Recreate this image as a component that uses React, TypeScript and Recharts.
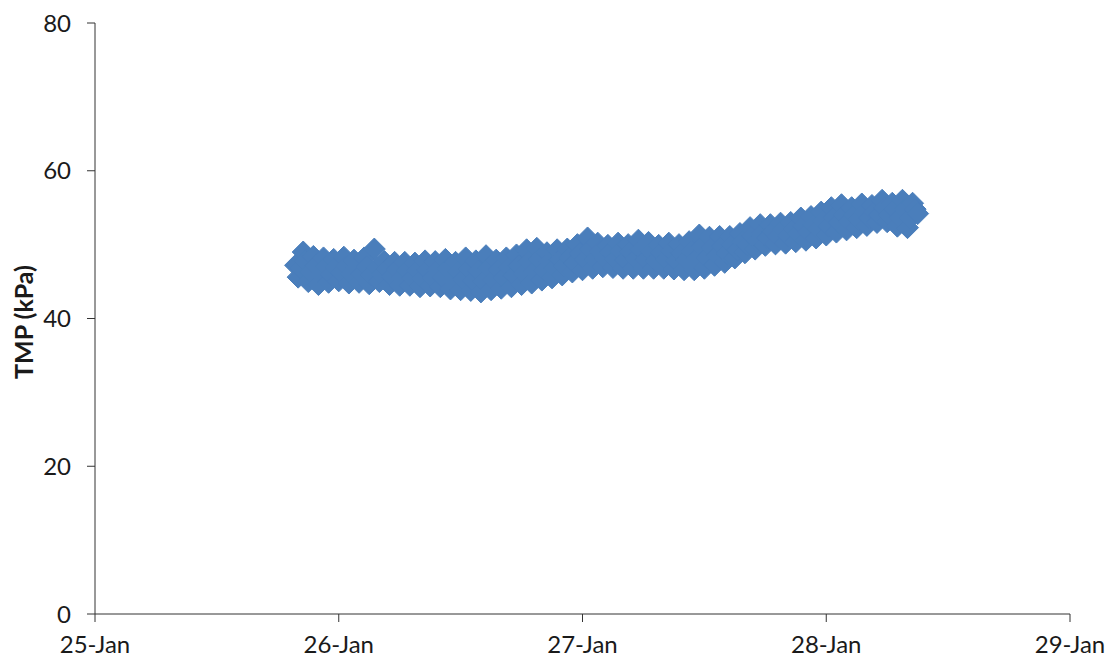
import { ScatterChart, Scatter, XAxis, YAxis, Label } from 'recharts';

// hours since 25-Jan 00:00 (15-minute logging)
const hours = [
  19.75, 20, 20.25, 20.5, 20.75, 21, 21.25, 21.5, 21.75,
  22, 22.25, 22.5, 22.75, 23, 23.25, 23.5, 23.75, 24, 24.25, 24.5, 24.75,
  25, 25.25, 25.5, 25.75, 26, 26.25, 26.5, 26.75, 27, 27.25, 27.5, 27.75,
  28, 28.25, 28.5, 28.75, 29, 29.25, 29.5, 29.75, 30, 30.25, 30.5, 30.75,
  31, 31.25, 31.5, 31.75, 32, 32.25, 32.5, 32.75, 33, 33.25, 33.5, 33.75,
  34, 34.25, 34.5, 34.75, 35, 35.25, 35.5, 35.75, 36, 36.25, 36.5, 36.75,
  37, 37.25, 37.5, 37.75, 38, 38.25, 38.5, 38.75, 39, 39.25, 39.5, 39.75,
  40, 40.25, 40.5, 40.75, 41, 41.25, 41.5, 41.75, 42, 42.25, 42.5, 42.75,
  43, 43.25, 43.5, 43.75, 44, 44.25, 44.5, 44.75, 45, 45.25, 45.5, 45.75,
  46, 46.25, 46.5, 46.75, 47, 47.25, 47.5, 47.75, 48, 48.25, 48.5, 48.75,
  49, 49.25, 49.5, 49.75, 50, 50.25, 50.5, 50.75, 51, 51.25, 51.5, 51.75,
  52, 52.25, 52.5, 52.75, 53, 53.25, 53.5, 53.75, 54, 54.25, 54.5, 54.75,
  55, 55.25, 55.5, 55.75, 56, 56.25, 56.5, 56.75, 57, 57.25, 57.5, 57.75,
  58, 58.25, 58.5, 58.75, 59, 59.25, 59.5, 59.75, 60, 60.25, 60.5, 60.75,
  61, 61.25, 61.5, 61.75, 62, 62.25, 62.5, 62.75, 63, 63.25, 63.5, 63.75,
  64, 64.25, 64.5, 64.75, 65, 65.25, 65.5, 65.75, 66, 66.25, 66.5, 66.75,
  67, 67.25, 67.5, 67.75, 68, 68.25, 68.5, 68.75, 69, 69.25, 69.5, 69.75,
  70, 70.25, 70.5, 70.75, 71, 71.25, 71.5, 71.75, 72, 72.25, 72.5, 72.75,
  73, 73.25, 73.5, 73.75, 74, 74.25, 74.5, 74.75, 75, 75.25, 75.5, 75.75,
  76, 76.25, 76.5, 76.75, 77, 77.25, 77.5, 77.75, 78, 78.25, 78.5, 78.75,
  79, 79.25, 79.5, 79.75, 80, 80.25, 80.5, 80.75, 81,
];

// TMP readings (kPa)
const tmp = [
  47.2, 45.6, 46.8, 49.0, 47.8, 45.0, 46.3, 48.4, 47.2,
  44.6, 45.9, 48.2, 47.0, 44.9, 46.0, 48.0, 46.9, 45.1, 46.2, 48.3, 47.1,
  44.8, 46.0, 47.9, 46.9, 44.9, 46.0, 48.2, 47.0, 44.7, 45.9, 49.4, 46.9,
  45.0, 46.0, 47.7, 46.8, 44.6, 45.7, 47.6, 46.6, 44.5, 45.6, 47.6, 46.5,
  44.5, 45.5, 47.5, 46.5, 44.3, 45.4, 47.8, 46.6, 44.4, 45.5, 47.7, 46.6,
  44.3, 45.5, 48.0, 46.8, 44.0, 45.2, 47.6, 46.4, 43.9, 45.3, 48.2, 46.7,
  43.8, 45.1, 47.8, 46.4, 43.6, 45.1, 48.5, 46.8, 43.9, 45.2, 47.9, 46.6,
  44.1, 45.5, 48.2, 46.9, 44.3, 45.8, 48.6, 47.2, 44.6, 46.1, 49.3, 47.7,
  44.8, 46.4, 49.5, 48.0, 45.2, 46.5, 48.9, 47.7, 45.5, 46.8, 49.3, 48.0,
  45.9, 47.1, 49.4, 48.2, 46.3, 47.5, 50.0, 48.8, 46.6, 48.0, 50.9, 49.4,
  46.8, 48.0, 50.2, 49.1, 47.0, 48.1, 49.9, 49.0, 46.9, 48.1, 50.2, 49.1,
  46.8, 47.9, 50.0, 49.0, 46.8, 48.1, 50.6, 49.3, 46.8, 48.0, 50.3, 49.1,
  46.8, 47.9, 49.9, 48.9, 46.8, 48.0, 50.2, 49.1, 46.7, 47.8, 50.0, 48.9,
  46.6, 47.9, 50.4, 49.1, 46.6, 48.1, 51.3, 49.7, 46.8, 48.2, 51.0, 49.6,
  47.2, 48.5, 51.1, 49.8, 47.6, 48.8, 51.1, 50.0, 48.2, 49.3, 51.5, 50.4,
  48.9, 50.0, 52.3, 51.2, 49.4, 50.5, 52.7, 51.6, 49.9, 50.9, 52.7, 51.8,
  50.1, 51.1, 52.9, 52.0, 50.2, 51.2, 53.0, 52.1, 50.4, 51.5, 53.6, 52.5,
  50.6, 51.7, 53.8, 52.7, 50.9, 52.1, 54.4, 53.2, 51.3, 52.5, 55.0, 53.7,
  51.7, 53.0, 55.4, 54.1, 52.0, 53.1, 55.0, 54.0, 52.3, 53.4, 55.5, 54.4,
  52.6, 53.6, 55.3, 54.4, 53.0, 54.0, 56.0, 55.0, 53.1, 54.0, 55.6, 54.8,
  52.5, 53.7, 56.0, 54.8, 52.3, 53.6, 55.6, 54.8, 54.2,
];

const xTicks = [0, 24, 48, 72, 96];
const xTickLabels = ['25-Jan', '26-Jan', '27-Jan', '28-Jan', '29-Jan'];
const yTicks = [0, 20, 40, 60, 80];

const data = hours.map((h, i) => ({ hour: h, tmp: tmp[i] }));

const FONT = 'Lato, "Open Sans", sans-serif';
const AXIS = '#333333';
const BLUE = '#4a7ebb';

const Diamond = (props: any) => {
  const { cx, cy } = props;
  const r = 11;
  return (
    <polygon
      points={`${cx},${cy - r} ${cx + r},${cy} ${cx},${cy + r} ${cx - r},${cy}`}
      fill={BLUE}
      stroke={BLUE}
      strokeWidth={1}
    />
  );
};

export default function App() {
  return (
    <div style={{ position: 'absolute', left: 0, top: 0, width: 1110, height: 660, background: '#fff' }}>
      <ScatterChart width={1110} height={660} margin={{ top: 23, right: 40, bottom: 0, left: 0 }}>
        <XAxis
          type="number"
          dataKey="hour"
          domain={[0, 96]}
          ticks={xTicks}
          tickFormatter={(v: number) => xTickLabels[xTicks.indexOf(v)]}
          height={46}
          tickSize={8}
          tickMargin={14}
          stroke={AXIS}
          tick={{ fill: '#1a1a1a', fontSize: 24, fontFamily: FONT }}
          interval={0}
        />
        <YAxis
          type="number"
          dataKey="tmp"
          domain={[0, 80]}
          ticks={yTicks}
          width={95}
          tickSize={8}
          tickMargin={16}
          stroke={AXIS}
          tick={{ fill: '#1a1a1a', fontSize: 24, fontFamily: FONT }}
          interval={0}
        >
          <Label
            content={() => (
              <text
                x={33}
                y={322}
                transform="rotate(-90 33 322)"
                textAnchor="middle"
                fontFamily={FONT}
                fontWeight="bold"
                fontSize={25}
                fill="#1a1a1a"
              >
                TMP (kPa)
              </text>
            )}
          />
        </YAxis>
        <Scatter data={data} shape={Diamond} isAnimationActive={false} />
      </ScatterChart>
    </div>
  );
}
